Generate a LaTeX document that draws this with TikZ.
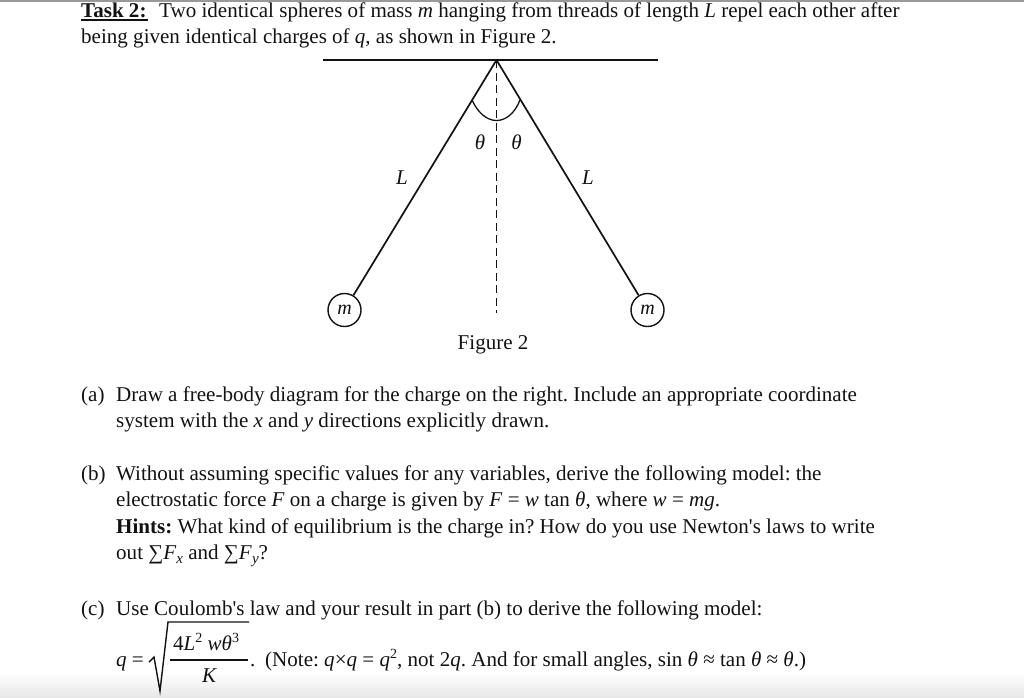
\documentclass[tikz,border=0pt]{standalone}
\usepackage{fontspec}
\setmainfont{Liberation Serif}
\usetikzlibrary{positioning,shadings}
\definecolor{lettercolor}{rgb}{0.07, 0.07, 0.07}
\tikzset{
	textline/.style={
		anchor=base west,
		inner sep=0pt,
		text=lettercolor,
		font=\fontsize{21.05}{25}\selectfont\frenchspacing
	},
	label/.style={
		inner sep=0pt,
		text=lettercolor,
		font=\fontsize{21}{25}\selectfont\itshape
	},
	thread/.style={
		draw=lettercolor,
		line width=1.7pt
	},
	plumb/.style={
		draw=lettercolor,
		line width=1.8pt,
		dash pattern=on 8pt off 4.5pt
	},
	sphere/.style={
		circle,
		draw=lettercolor,
		line width=1.4pt,
		fill=white,
		minimum size=33pt,
		inner sep=0pt,
		text=lettercolor,
		font=\fontsize{20}{24}\selectfont\itshape
	},
}
\newcommand{\sub}[1]{\raisebox{-4pt}{\fontsize{15}{15}\selectfont\textit{#1}}}
\newcommand{\super}[1]{\raisebox{8pt}{\fontsize{14}{14}\selectfont #1}}
\begin{document}
\begin{tikzpicture}[x=1pt,y=-1pt]
	\useasboundingbox (0,0) rectangle (1024,697);
	\fill[gray!80] (0,0) rectangle (1024,1.5);
	\shade[top color=white,bottom color=black!9] (0,672) rectangle (1024,697);

	% statement
	\node [textline] (task) at (81,17) {\textbf{Task 2:}};
	\draw[lettercolor,line width=1.4pt] (task.base west)++(0,3) -- ++(67,0);
	\node [textline] (line1) at (159,17) {Two identical spheres of mass \textit{m} hanging from threads of length \textit{L} repel each other after};
	\node [textline] (line2) at (81,43) {being given identical charges of \textit{q}, as shown in Figure 2.};

	% figure
	\coordinate (apex) at (496.5,60);
	\coordinate (roofL) at (323,60);
	\coordinate (roofR) at (658,60);
	\coordinate (foot) at (496.5,313);
	\coordinate (arcL) at (472,100);
	\coordinate (arcR) at (520,100);
	\node [sphere] (mL) at (344.5,310) {m};
	\node [sphere] (mR) at (647.5,310) {m};
	\node [label] (thL) at (480,142) {θ};
	\node [label] (thR) at (516.5,142) {θ};
	\node [label] (lenL) at (402,178) {L};
	\node [label] (lenR) at (588,178) {L};
	\node [textline] (caption) at (457.5,349) {Figure 2};

	\draw [thread] (roofL) -- (roofR);
	\draw [thread] (apex) -- (mL);
	\draw [thread] (apex) -- (mR);
	\draw [plumb] (apex) -- (foot);
	\draw [thread,line width=1.3pt] (arcL) .. controls (478,113) and (487,120.5) .. (496.5,120.5)
		.. controls (506,120.5) and (515,113) .. (arcR);

	% part a
	\node [textline] (a1) at (81,401) {(a)};
	\node [textline] (a2) at (116,401) {Draw a free-body diagram for the charge on the right. Include an appropriate coordinate};
	\node [textline] (a3) at (116,427) {system with the \textit{x} and \textit{y} directions explicitly drawn.};

	% part b
	\node [textline] (b1) at (81,480) {(b)};
	\node [textline] (b2) at (116,480) {Without assuming specific values for any variables, derive the following model: the};
	\node [textline] (b3) at (116,506) {electrostatic force \textit{F} on a charge is given by \textit{F} = \textit{w} tan \textit{θ}, where \textit{w} = \textit{mg}.};
	\node [textline] (b4) at (116,533) {\textbf{Hints:} What kind of equilibrium is the charge in? How do you use Newton\textquotesingle s laws to write};
	\node [textline] (b5) at (116,559) {out ∑\textit{F}\sub{x} and ∑\textit{F}\sub{y}?};

	% part c
	\node [textline] (c1) at (81,615) {(c)};
	\node [textline] (c2) at (116,615) {Use Coulomb\textquotesingle s law and your result in part (b) to derive the following model:};
	\node [textline] (q) at (116,666) {\textit{q} =};
	\coordinate (fracL) at (170,660);
	\coordinate (fracR) at (248,660);
	\draw [thread,line width=1.4pt] (149,662) -- (154,657) -- (160,691) -- (168,622) -- (249,622);
	\draw [thread,line width=1.4pt] (fracL) -- (fracR);
	\node [textline] (num) at (173,650) {4\textit{L}\super{2} \textit{w}\textit{θ}\super{3}};
	\node [textline] (den) at (202,682) {\textit{K}};
	\node [textline] (dot) at (250,666) {.};
	\node [textline] (note) at (265,666) {(Note: \textit{q}×\textit{q} = \textit{q}\super{2}, not 2\textit{q}. And for small angles, sin \textit{θ} ≈ tan \textit{θ} ≈ \textit{θ}.)};
\end{tikzpicture}
\end{document}
